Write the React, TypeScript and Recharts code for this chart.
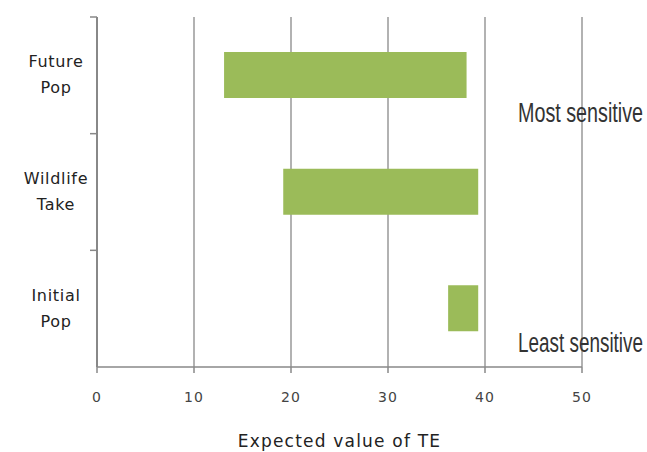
import React from 'react';
import { BarChart, Bar, XAxis, YAxis, CartesianGrid, Customized } from 'recharts';

const categories = ['Future Pop', 'Wildlife Take', 'Initial Pop'];
const lowValues = [13.1, 19.2, 36.2];
const highValues = [38.1, 39.3, 39.3];
const xTicks = [0, 10, 20, 30, 40, 50];
const axisTitle = 'Expected value of TE';
const noteTop = 'Most sensitive';
const noteBottom = 'Least sensitive';

const data = categories.map((name, i) => ({ name, range: [lowValues[i], highValues[i]] }));

const W = 647;
const H = 452;
const M = { top: 17, right: 65, bottom: 0, left: 0 };
const Y_AXIS_W = 97;
const X_AXIS_H = 85;
const PLOT_H = H - M.top - M.bottom - X_AXIS_H;
const BAND = PLOT_H / categories.length;
const FONT = '"DejaVu Sans", Verdana, sans-serif';
const NOTE_FONT = '"Liberation Sans", Arial, sans-serif';

const CategoryTick = (props: any) => {
  const { y, payload } = props;
  const lines = String(payload.value).split(' ');
  const top = y - BAND / 2;
  return (
    <g>
      <line x1={90} x2={97} y1={top} y2={top} stroke="#888" strokeWidth={1.5} />
      <text x={56} y={y - 8} textAnchor="middle" fontFamily={FONT} fontSize={16} fill="#222" letterSpacing={0.7}>
        {lines[0]}
      </text>
      <text x={56} y={y + 18} textAnchor="middle" fontFamily={FONT} fontSize={16} fill="#222" letterSpacing={0.7}>
        {lines[1]}
      </text>
    </g>
  );
};

const Note = ({ x, y, text }: { x: number; y: number; text: string }) => (
  <g transform={`translate(${x},${y}) scale(1,1.42)`}>
    <text x={0} y={0} fontFamily={NOTE_FONT} fontSize={19} fill="#333" textLength={125} lengthAdjust="spacingAndGlyphs">
      {text}
    </text>
  </g>
);

const Notes = () => (
  <g>
    <Note x={518} y={122} text={noteTop} />
    <Note x={518} y={352} text={noteBottom} />
  </g>
);

export default function App() {
  return (
    <div style={{ position: 'absolute', left: 0, top: 0, width: W, height: H, background: '#fff' }}>
      <BarChart width={W} height={H} data={data} layout="vertical" margin={M}>
        <CartesianGrid horizontal={false} stroke="#999" strokeWidth={1.5} />
        <XAxis
          type="number"
          domain={[0, 50]}
          ticks={xTicks}
          height={X_AXIS_H}
          axisLine={{ stroke: '#888', strokeWidth: 1.5 }}
          tickLine={{ stroke: '#888', strokeWidth: 1.5 }}
          tickSize={6}
          tickMargin={19}
          tick={{ fill: '#444', fontSize: 14, fontFamily: FONT, letterSpacing: 1 }}
          label={{ value: axisTitle, position: 'insideBottom', offset: 5, fill: '#222', fontSize: 17, fontFamily: FONT, letterSpacing: 1.2 }}
        />
        <YAxis
          type="category"
          dataKey="name"
          width={Y_AXIS_W}
          axisLine={{ stroke: '#888', strokeWidth: 2 }}
          tickLine={false}
          tick={<CategoryTick />}
        />
        <Bar dataKey="range" fill="#9bbb59" barSize={46} isAnimationActive={false} />
        <Customized component={Notes} />
      </BarChart>
    </div>
  );
}
